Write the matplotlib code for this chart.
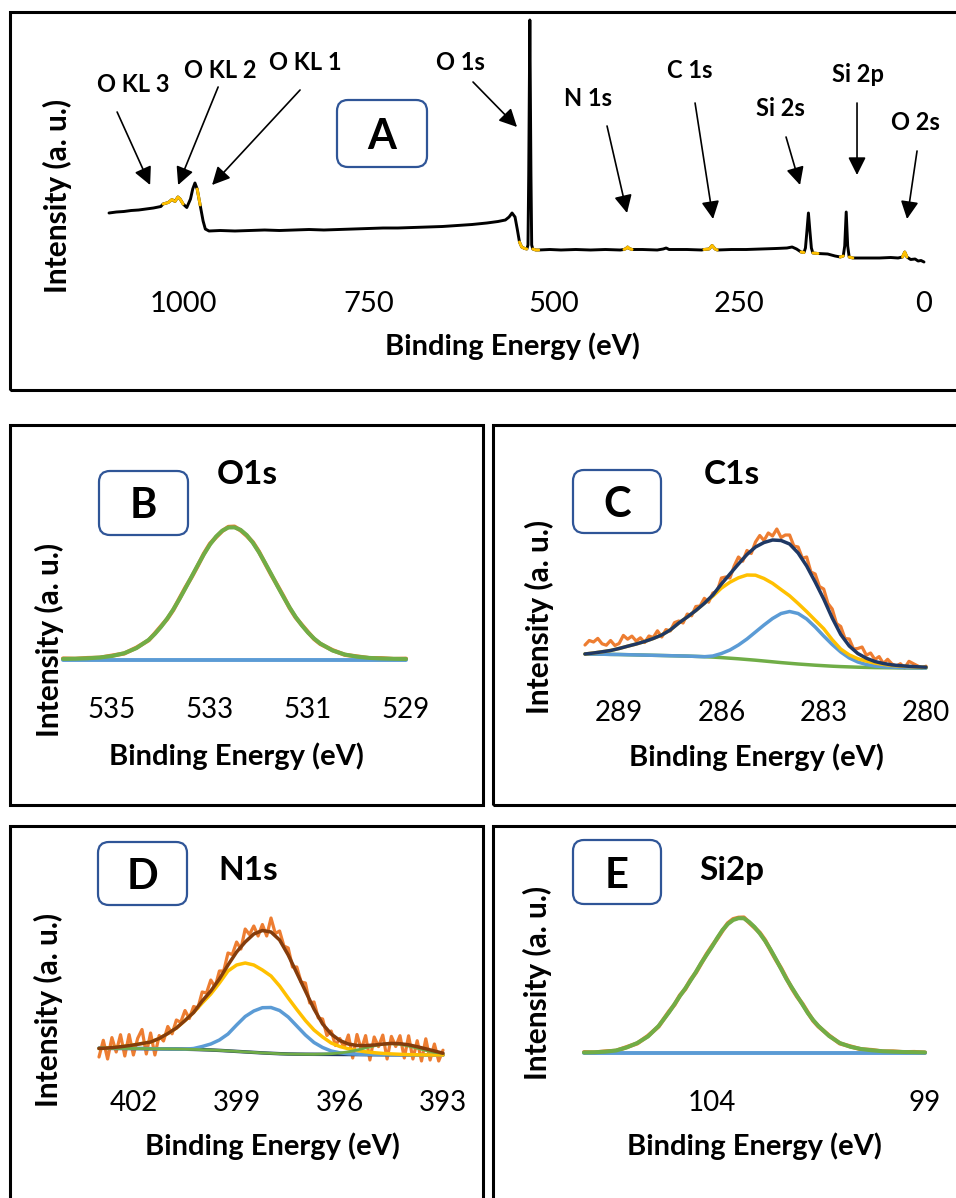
import matplotlib
matplotlib.use("Agg")
import matplotlib.pyplot as plt
import numpy as np
from matplotlib.patches import Rectangle, FancyBboxPatch

plt.rcParams['font.family'] = ['Lato', 'DejaVu Sans']

# ---------------- data ----------------
# survey spectrum (panel A)
survey_ev = [1100, 1090, 1080, 1070, 1060, 1050, 1040, 1030, 1027, 1020,
             1015, 1013, 1011, 1007, 1004, 1000, 995, 990, 987, 984,
             981, 977, 973, 970, 965, 950, 930, 910, 890, 870,
             850, 830, 810, 790, 770, 750, 730, 710, 690, 670,
             650, 630, 610, 590, 575, 565, 560, 556, 552, 549,
             546, 543, 539, 536, 534.5, 533.5, 532, 530.5, 529.5, 528,
             524, 520, 505, 490, 470, 450, 430, 410, 405, 402,
             400, 398, 394, 380, 360, 352, 348, 344, 320, 300,
             297, 290, 286, 282, 279, 260, 240, 220, 200, 185,
             178, 172, 166, 162, 160, 158, 156, 154, 152, 150,
             143, 130, 120, 113, 109, 107, 105, 103, 101, 96,
             80, 60, 45, 35, 29, 26, 23, 18, 12, 8,
             4, 0]
survey_int = [52, 53, 53.5, 54.5, 55, 56, 57, 58.5, 61, 62.5,
              65.5, 64.5, 63.5, 68, 66, 61, 57.5, 66, 76, 82,
              76, 60, 44, 36, 34, 34.5, 34, 34.5, 35, 34.5,
              35, 35.5, 35, 35.5, 36, 36.5, 37, 37, 37.5, 38,
              38.5, 39.5, 40.5, 42, 43.5, 45, 48, 52, 48, 36,
              23, 18, 16.5, 16, 20, 90, 245, 90, 20, 16,
              15, 15, 15.5, 15, 15.5, 15, 15.5, 15, 15.5, 16.5,
              18, 16.5, 15.5, 15.5, 15, 16, 17, 15.5, 15.5, 15,
              15.5, 16, 19.5, 16, 15, 15.5, 15.5, 16, 16.5, 17,
              18, 16, 13, 12.5, 17, 34, 52, 34, 17, 12,
              11.5, 11, 9, 8, 9, 19, 53, 19, 8, 7,
              7, 7, 7.5, 7, 8, 13, 8, 5.5, 6, 4,
              4.5, 3]
survey_ticks = [1000, 750, 500, 250, 0]
# energy windows highlighted in yellow (high, low)
fit_windows = [(1027, 1013), (1011, 1000), (983, 977), (546, 536), (528, 520),
               (405, 394), (297, 279), (166, 162), (150, 143), (113, 109),
               (101, 96), (29, 23)]
peak_names = ['O KL 3', 'O KL 2', 'O KL 1', 'O 1s', 'N 1s', 'C 1s', 'Si 2s', 'Si 2p', 'O 2s']
arrow_ev = [1044.5, 1006.7, 960.9, 549.3, 400.8, 284.7, 167.3, 90.4, 22.9]
arrow_int = [80, 80, 80, 138, 52, 46, 80, 90, 46]

# O1s (panel B)
b_ev = [536.0, 535.75, 535.5, 535.25, 535.0, 534.75, 534.5, 534.25,
        534.125, 534.0, 533.875, 533.75, 533.625, 533.5, 533.375, 533.25, 533.125, 533.0,
        532.875, 532.75, 532.625, 532.5, 532.375, 532.25, 532.125, 532.0, 531.875, 531.75,
        531.625, 531.5, 531.375, 531.25, 531.125, 531.0, 530.875, 530.75,
        530.5, 530.25, 530.0, 529.75, 529.5, 529.25, 529.0]
b_raw = [1.5, 1.2, 2.0, 2.3, 4.4, 6.5, 12.4, 19.8,
         26.6, 33.8, 40.9, 50.0, 61.4, 72.6, 82.9, 94.2, 106.3, 116.3,
         122.9, 129.0, 133.1, 133.4, 129.6, 124.2, 117.8, 108.3, 96.5, 85.1,
         74.6, 63.7, 52.0, 42.4, 35.1, 27.9, 21.0, 16.1,
         9.9, 5.2, 3.6, 1.9, 1.8, 1.0, 1.3]
b_fit = [1.1, 1.3, 1.7, 2.5, 4.0, 6.8, 11.9, 20.2,
         26.1, 33.1, 41.3, 50.5, 60.8, 71.9, 83.4, 94.8, 105.7, 115.5,
         123.5, 129.3, 132.5, 132.6, 130.1, 124.9, 117.2, 107.7, 97.0, 85.8,
         74.1, 63.0, 52.5, 42.9, 34.6, 27.4, 21.4, 16.5,
         9.5, 5.5, 3.3, 2.1, 1.5, 1.2, 1.0]
b_bg_ev = [536.0, 529.0]
b_bg = [0, 0]
b_ticks = [535, 533, 531, 529]

# C1s (panel C)
c_ev = [290.0, 289.75, 289.5, 289.25, 289.0, 288.75, 288.5, 288.25, 288.0, 287.75,
        287.5, 287.25, 287.0, 286.75, 286.5, 286.25, 286.0, 285.75, 285.5, 285.25,
        285.0, 284.75, 284.5, 284.25, 284.0, 283.75, 283.5, 283.25, 283.0, 282.75,
        282.5, 282.25, 282.0, 281.75, 281.5, 281.25, 281.0, 280.75, 280.5, 280.25,
        280.0]
c_bg = [14, 13.9, 13.8, 13.6, 13.5, 13.3, 13.1, 12.9, 12.7, 12.5,
        12.3, 12.1, 11.9, 11.6, 11.3, 10.9, 10.4, 9.8, 9.2, 8.5,
        7.8, 7.0, 6.2, 5.4, 4.7, 4.0, 3.4, 2.8, 2.3, 1.8,
        1.4, 1.1, 0.8, 0.6, 0.4, 0.3, 0.2, 0.1, 0.05, 0,
        0]
c_blue = [14, 13.9, 13.8, 13.6, 13.5, 13.3, 13.1, 12.9, 12.7, 12.5,
          12.3, 12.1, 11.9, 11.6, 11.3, 12, 14.5, 18, 23, 29,
          36, 43, 49.5, 54.5, 56.5, 54.5, 49, 41, 32, 23.5,
          16, 10, 6, 3.5, 2, 1.2, 0.8, 0.5, 0.3, 0.2,
          0.1]
c_yellow = [14, 15, 16.2, 17.5, 19.5, 21.8, 24, 26.5, 29.5, 33,
            38, 45, 51, 57.5, 64.7, 71.9, 79.9, 85.8, 90.2, 93,
            92.8, 89.5, 84.7, 78.4, 72.2, 64.5, 56.4, 47.8, 39.3, 28.3,
            18.9, 13.1, 9.3, 6.9, 4.9, 3.6, 2.5, 1.9, 1.45, 1.0,
            0.7]
c_env = [14, 15, 16.2, 17.5, 19.5, 21.8, 24, 26.5, 29.5, 33,
         38, 45, 51, 57.5, 64.7, 73, 84, 94, 104, 113.5,
         121, 125.5, 128, 127.5, 124, 115, 102, 86, 69, 50,
         33.5, 22, 14.5, 9.8, 6.5, 4.5, 3.1, 2.3, 1.7, 1.2,
         0.8]
c_raw_ev = [290.0, 289.875, 289.75, 289.625, 289.5, 289.375, 289.25, 289.125, 289.0,
            288.875, 288.75, 288.625, 288.5, 288.375, 288.25, 288.125, 288.0,
            287.875, 287.75, 287.625, 287.5, 287.375, 287.25, 287.125, 287.0,
            286.875, 286.75, 286.625, 286.5, 286.375, 286.25, 286.125, 286.0,
            285.875, 285.75, 285.625, 285.5, 285.375, 285.25, 285.125, 285.0,
            284.875, 284.75, 284.625, 284.5, 284.375, 284.25, 284.125, 284.0,
            283.875, 283.75, 283.625, 283.5, 283.375, 283.25, 283.125, 283.0,
            282.875, 282.75, 282.625, 282.5, 282.375, 282.25, 282.125, 282.0,
            281.875, 281.75, 281.625, 281.5, 281.375, 281.25, 281.125, 281.0,
            280.875, 280.75, 280.625, 280.5, 280.375, 280.25, 280.125, 280.0]
c_raw = [23, 27.5, 26, 29.6, 24.2, 22.8, 27.5, 22.5, 24.5,
         32.6, 28.8, 31.9, 27, 30.2, 25.5, 32, 30.5,
         37.2, 31, 38.4, 37, 45.4, 47, 45, 54,
         52.2, 61.5, 62, 69.7, 65.8, 75, 76.5, 90,
         91, 90, 102, 111, 106.8, 117.5, 114.5, 126,
         132.5, 127.5, 135, 132, 139, 130.5, 133, 133,
         122, 121, 109.8, 111, 96, 94, 81.5, 79,
         64.5, 59, 44.5, 41.5, 29.5, 29, 19, 19.5,
         21, 12.8, 15, 8.5, 11.4, 4.5, 8.7, 4.1,
         1.7, 4.3, 0, 6.7, 4.4, 2.2, 0, 1.8]
c_ticks = [289, 286, 283, 280]

# N1s (panel D)
d_ev = [403.0, 402.75, 402.5, 402.25, 402.0, 401.75, 401.5, 401.25, 401.0, 400.75,
        400.5, 400.25, 400.0, 399.75, 399.5, 399.25, 399.0, 398.75, 398.5, 398.25,
        398.0, 397.75, 397.5, 397.25, 397.0, 396.75, 396.5, 396.25, 396.0, 395.75,
        395.5, 395.25, 395.0, 394.75, 394.5, 394.25, 394.0, 393.75, 393.5, 393.25,
        393.0]
d_bg = [6.8, 6.7, 6.6, 6.6, 6.5, 6.4, 6.3, 6.2, 6.1, 6.0,
        5.8, 5.6, 5.3, 5.0, 4.6, 4.1, 3.6, 3.1, 2.6, 2.1,
        1.7, 1.3, 1.0, 0.85, 0.75, 0.7, 0.65, 0.6, 0.55, 0.5,
        0.45, 0.4, 0.35, 0.3, 0.25, 0.2, 0.15, 0.1, 0.05, 0,
        0]
d_blue = [6.8, 6.7, 6.6, 6.6, 6.5, 6.4, 6.3, 6.2, 6.1, 6.0,
          5.8, 6.5, 8.5, 11, 15, 21, 30, 38.5, 44, 47.3,
          47.5, 44.5, 38, 29, 20, 12.5, 7.5, 4, 2.2, 1.2,
          0.8, 0.6, 0.45, 0.3, 0.25, 0.2, 0.15, 0.1, 0.05, 0,
          0]
d_yellow = [6.5, 7, 7.8, 8.8, 10, 11.5, 13, 16.5, 21.5, 27,
            34.5, 42.5, 52, 61, 72, 84, 90, 92, 90, 85,
            79, 69, 57, 45.5, 34.5, 25, 18, 12, 8.5, 6.2,
            4.5, 3.2, 2.3, 1.6, 1.1, 0.7, 0.4, 0.2, 0.1, 0,
            0]
d_green = [6.8, 6.7, 6.6, 6.6, 6.5, 6.4, 6.3, 6.2, 6.1, 6.0,
           5.8, 5.6, 5.3, 5.0, 4.6, 4.1, 3.6, 3.1, 2.6, 2.1,
           1.7, 1.3, 1.0, 0.85, 0.75, 0.7, 0.95, 1.3, 2.05, 3.2,
           4.95, 7.1, 9.15, 10.7, 11.25, 10.6, 8.95, 6.8, 4.55, 2.7,
           1.5]
d_env = [6.5, 7, 7.8, 8.8, 10, 11.5, 13, 16.5, 21.5, 27,
         34.5, 42.5, 54, 64, 76, 90, 103, 113, 121, 124.5,
         123, 115, 100, 82, 64, 46, 31, 21, 14.5, 11,
         9.5, 9.4, 10, 10.9, 11.6, 11.3, 10.2, 8.3, 6.2, 4,
         1.8]
d_raw_ev = [403.0, 402.875, 402.75, 402.625, 402.5, 402.375, 402.25, 402.125, 402.0,
            401.875, 401.75, 401.625, 401.5, 401.375, 401.25, 401.125, 401.0,
            400.875, 400.75, 400.625, 400.5, 400.375, 400.25, 400.125, 400.0,
            399.875, 399.75, 399.625, 399.5, 399.375, 399.25, 399.125, 399.0,
            398.875, 398.75, 398.625, 398.5, 398.375, 398.25, 398.125, 398.0,
            397.875, 397.75, 397.625, 397.5, 397.375, 397.25, 397.125, 397.0,
            396.875, 396.75, 396.625, 396.5, 396.375, 396.25, 396.125, 396.0,
            395.875, 395.75, 395.625, 395.5, 395.375, 395.25, 395.125, 395.0,
            394.875, 394.75, 394.625, 394.5, 394.375, 394.25, 394.125, 394.0,
            393.875, 393.75, 393.625, 393.5, 393.375, 393.25, 393.125, 393.0]
d_raw = [-2, 14.7, -4, 17.4, 3, 20.3, -1, 20.4, 0,
         16.7, 25.5, 1, 22, 0, 19.5, 14, 28.5,
         21.2, 35, 32.7, 44.5, 36.5, 48.5, 47, 63,
         62, 75, 68, 84, 84, 102, 100.5, 113,
         106, 126, 120.5, 129, 119, 130.5, 119, 137,
         121.5, 124, 109, 107, 88, 88, 73, 72,
         52, 53, 37, 36, 19.5, 24, 9.5, 16.5,
         7.5, 20, -3, 20.5, 5.4, 19.4, -5, 18,
         8.4, 19.9, -4, 18.6, 8.5, 19.3, -3, 19.2,
         -4, 14.3, -6, 16.2, -5, 11, -6, 4.8]
d_ticks = [402, 399, 396, 393]

# Si2p (panel E)
e_ev = [107.0, 106.75, 106.5, 106.25, 106.0, 105.75, 105.5, 105.25,
        105.0, 104.875, 104.75, 104.625, 104.5, 104.375, 104.25, 104.125, 104.0, 103.875,
        103.75, 103.625, 103.5, 103.375, 103.25, 103.125, 103.0, 102.875, 102.75, 102.625,
        102.5, 102.375, 102.25, 102.125, 102.0, 101.875, 101.75, 101.625, 101.5,
        101.25, 101.0, 100.75, 100.5, 100.25, 100.0, 99.75, 99.5, 99.25, 99.0]
e_raw = [0.8, 0.5, 1.6, 2.2, 5.9, 9.6, 17.1, 26.5,
         41.8, 48.4, 57.6, 63.9, 73.2, 80.4, 89.5, 98.7, 106.8, 114.3,
         122.4, 129.8, 133.9, 135.3, 135.5, 130.4, 125.4, 120.2, 112.7, 102.9,
         93.4, 84.7, 74.6, 64.8, 56.3, 49.2, 40.6, 32.4, 26.5,
         17.5, 9.6, 6.6, 3.7, 3.0, 1.5, 1.6, 0.8, 1.0, 0.4]
e_fit = [0.5, 0.8, 1.3, 2.5, 5.5, 10.0, 16.5, 27,
         41, 49, 57, 64.5, 72.5, 81, 90, 98, 106, 115,
         123, 129, 133, 134.8, 134.7, 131, 126, 119.5, 112, 103.5,
         94, 84, 74, 65.5, 57, 48.5, 40, 33, 27,
         17, 10, 6.2, 4.0, 2.7, 1.8, 1.3, 1.0, 0.8, 0.6]
e_bg_ev = [107.0, 99.0]
e_bg = [0, 0]
e_ticks = [104, 99]

ORANGE, GREEN, BLUE, GOLD = '#ED7D31', '#70AD47', '#5B9BD5', '#FFC000'
NAVY, BROWN = '#1F3864', '#843C0C'

# ---------------- layout helpers (pixel units, origin top-left) ----------------
W, H = 956, 1198
fig = plt.figure(figsize=(W / 100, H / 100), dpi=100)
inch = fig.dpi_scale_trans


def px(x, y):
    return x / 100, (H - y) / 100


def add_ax(left, top, width, height):
    return fig.add_axes([left / W, 1 - (top + height) / H, width / W, height / H])


def put(x, y, s, **kw):
    fig.text(*px(x, y), s, transform=inch, **kw)


def frame(x0, y0, x1, y1):
    fig.add_artist(Rectangle(px(x0, y1), (x1 - x0) / 100, (y1 - y0) / 100,
                             transform=inch, fill=False, lw=2.2, ec='black'))


def tag(x0, y0, x1, y1, letter):
    fig.add_artist(FancyBboxPatch(px(x0, y1), (x1 - x0) / 100, (y1 - y0) / 100,
                                  boxstyle='round,pad=0,rounding_size=0.11', transform=inch,
                                  fc='white', ec='#2F5597', lw=1.6, zorder=3))
    put((x0 + x1) / 2, (y0 + y1) / 2, letter, ha='center', va='center_baseline',
        fontsize=30, fontweight='bold', zorder=4)


def style(ax, ticks, pad, size=20):
    ax.set_xticks(ticks)
    ax.set_xticklabels([str(t) for t in ticks])
    ax.set_yticks([])
    ax.tick_params(axis='x', length=0, pad=pad, labelsize=size)
    for s in ax.spines.values():
        s.set_visible(False)
    ax.patch.set_visible(False)


def labels(xl, yl):
    put(xl[0], xl[1], 'Binding Energy (eV)', ha='center', va='center',
        fontsize=21, fontweight='bold')
    put(yl[0], yl[1], 'Intensity (a. u.)', ha='center', va='center', rotation=90,
        fontsize=21.5, fontweight='bold')


def line(ax, x, y, color, lw):
    ax.plot(x, y, color=color, lw=lw, clip_on=False, solid_joinstyle='round', solid_capstyle='round')


# panel frames
frame(10, 12, 962, 390)
frame(10, 425, 483, 805)
frame(493, 425, 962, 805)
frame(10, 826, 483, 1205)
frame(493, 826, 962, 1205)

# ---------------- A: survey ----------------
ax = add_ax(109, 18, 815, 247)
line(ax, survey_ev, survey_int, 'black', 2.1)
ev = np.array(survey_ev)
it = np.array(survey_int)
for hi, lo in fit_windows:
    m = (ev <= hi) & (ev >= lo)
    line(ax, ev[m], it[m], GOLD, 2.1)
ax.set_xlim(1100, 0)
ax.set_ylim(0, 247)
style(ax, survey_ticks, 18.7, 21)

tails = [(-33, 73), (40, 98), (88, 95), (-44, 45), (-20, 87), (-18, 116), (-14, 48), (0, 72), (10, 68)]
for e, i, t in zip(arrow_ev, arrow_int, tails):
    ax.annotate('', xy=(e, i), xytext=t, textcoords='offset pixels', annotation_clip=False,
                arrowprops=dict(arrowstyle='-|>,head_length=0.6,head_width=0.3', mutation_scale=18,
                                lw=1.2, color='black', shrinkA=0, shrinkB=0))
name_pos = [(133, 82), (220, 68), (305, 60), (460, 60), (588, 97), (690, 68), (780, 107), (858, 72), (915, 120)]
for name, (x, y) in zip(peak_names, name_pos):
    put(x, y, name, ha='center', va='center_baseline', fontsize=17, fontweight='bold')
tag(337, 100, 427, 167, 'A')
labels((512, 346), (57, 196))

# ---------------- B: O1s ----------------
ax = add_ax(63, 520, 343, 145)
line(ax, b_ev, b_raw, ORANGE, 3.0)
line(ax, b_bg_ev, b_bg, BLUE, 2.8)
line(ax, b_ev, b_fit, GREEN, 2.9)
ax.set_xlim(536, 529)
ax.set_ylim(-5, 140)
style(ax, b_ticks, 23)
put(247, 472, 'O1s', ha='center', va='center_baseline', fontsize=24, fontweight='bold')
tag(99, 471, 188, 535, 'B')
labels((236, 756), (49, 640))

# ---------------- C: C1s ----------------
ax = add_ax(585, 528, 341, 145)
line(ax, c_raw_ev, c_raw, ORANGE, 2.3)
line(ax, c_ev, c_bg, GREEN, 2.5)
line(ax, c_ev, c_blue, BLUE, 2.5)
line(ax, c_ev, c_yellow, GOLD, 2.5)
line(ax, c_ev, c_env, NAVY, 2.5)
ax.set_xlim(290, 280)
ax.set_ylim(-5, 140)
style(ax, c_ticks, 19.4)
put(732, 472, 'C1s', ha='center', va='center_baseline', fontsize=24, fontweight='bold')
tag(573, 470, 661, 533, 'C')
labels((756, 757), (539, 617))

# ---------------- D: N1s ----------------
ax = add_ax(99, 915, 344, 148)
line(ax, d_raw_ev, d_raw, ORANGE, 2.3)
line(ax, d_ev, d_bg, NAVY, 2.5)
line(ax, d_ev, d_blue, BLUE, 2.5)
line(ax, d_ev, d_yellow, GOLD, 2.5)
line(ax, d_ev, d_green, GREEN, 2.0)
line(ax, d_ev, d_env, BROWN, 2.5)
ax.set_xlim(403, 393)
ax.set_ylim(-8, 140)
style(ax, d_ticks, 19.4)
put(248, 868, 'N1s', ha='center', va='center_baseline', fontsize=24, fontweight='bold')
tag(98, 842, 187, 905, 'D')
labels((272, 1146), (48, 1010))

# ---------------- E: Si2p ----------------
ax = add_ax(584, 913, 341, 145)
line(ax, e_ev, e_raw, ORANGE, 3.0)
line(ax, e_bg_ev, e_bg, BLUE, 2.8)
line(ax, e_ev, e_fit, GREEN, 2.9)
ax.set_xlim(107, 99)
ax.set_ylim(-5, 140)
style(ax, e_ticks, 23)
put(732, 868, 'Si2p', ha='center', va='center_baseline', fontsize=24, fontweight='bold')
tag(573, 840, 661, 904, 'E')
labels((754, 1146), (537, 983))

fig.savefig('out.png', dpi=100)
